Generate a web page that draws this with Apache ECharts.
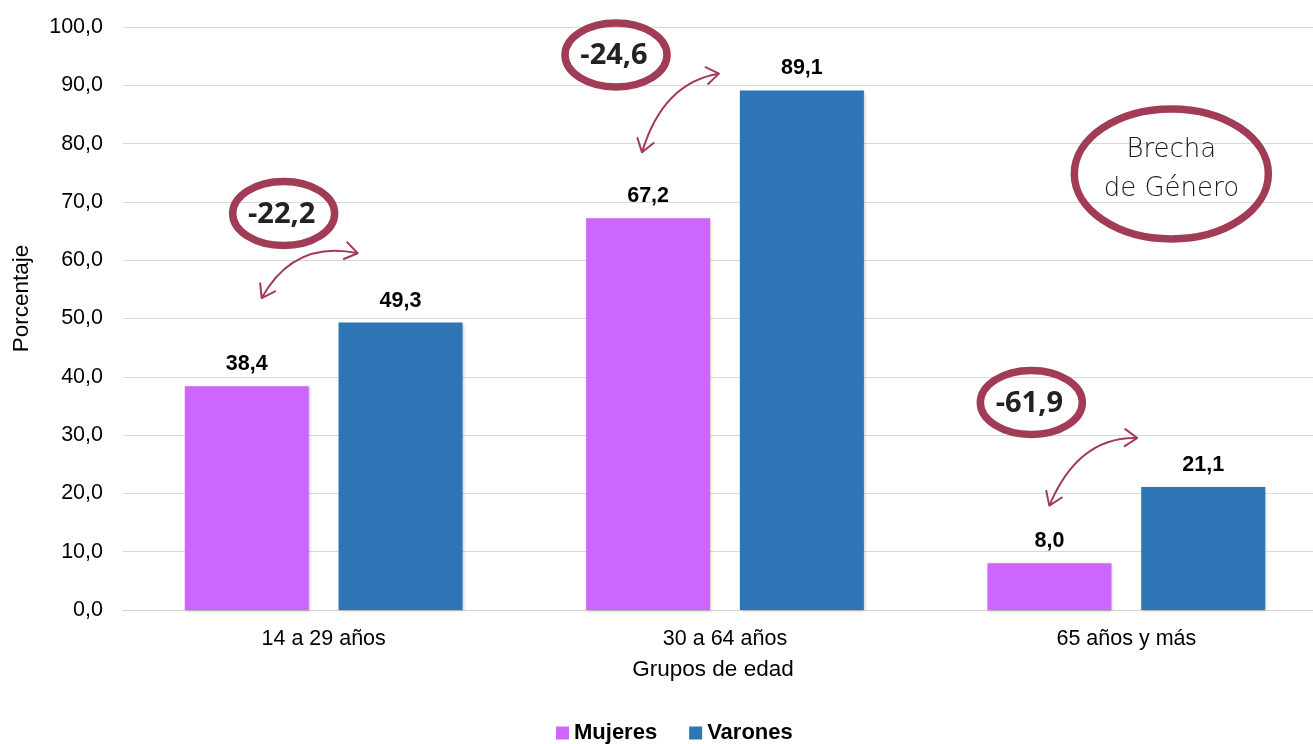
<!DOCTYPE html>
<html><head><meta charset="utf-8">
<script src="https://cdn.jsdelivr.net/npm/echarts@6/dist/echarts.min.js"></script>
<style>html,body{margin:0;padding:0;background:#fff;overflow:hidden;width:1313px;height:744px}#c{width:1327px;height:744px}</style>
</head><body><div id="c"></div>
<script>
const categories = ['14 a 29 años', '30 a 64 años', '65 años y más'];
const mujeres = [38.4, 67.2, 8.0];
const varones = [49.3, 89.1, 21.1];
const brechas = ['-22,2', '-24,6', '-61,9'];
const yTicks = [0, 10, 20, 30, 40, 50, 60, 70, 80, 90, 100];

const MAROON = '#A03C56';
const fmt = v => v.toFixed(1).replace('.', ',');

const chart = echarts.init(document.getElementById('c'));
chart.setOption({
  animation: false,
  grid: { left: 123, top: 27, right: 0, bottom: 134 },
  xAxis: {
    type: 'category', data: categories,
    name: 'Grupos de edad', nameLocation: 'middle', nameGap: 48,
    nameTextStyle: { fontFamily: 'Liberation Sans', fontSize: 22.5, color: '#000', padding: [0, 24, 0, 0] },
    axisLine: { lineStyle: { color: '#cfcfcf', width: 1 } },
    axisTick: { show: false },
    axisLabel: { fontFamily: 'Liberation Sans', fontSize: 21.5, color: '#000', margin: 18 }
  },
  yAxis: {
    type: 'value', min: yTicks[0], max: yTicks[yTicks.length - 1], interval: 10,
    axisLine: { show: false }, axisTick: { show: false },
    axisLabel: { fontFamily: 'Liberation Sans', fontSize: 21.5, color: '#000', margin: 20, formatter: v => fmt(v) },
    splitLine: { lineStyle: { color: '#d9d9d9', width: 1 } }
  },
  legend: {
    bottom: -5, left: 551, itemWidth: 13, itemHeight: 13, itemGap: 32,
    icon: 'rect',
    textStyle: { fontFamily: 'Liberation Sans', fontSize: 22, fontWeight: 'bold', color: '#000' },
    data: ['Mujeres', 'Varones']
  },
  series: [
    { name: 'Mujeres', type: 'bar', data: mujeres, barWidth: 124, barGap: '24%',
      itemStyle: { color: '#CC66FF', shadowColor: 'rgba(0,0,0,0.25)', shadowBlur: 3, shadowOffsetX: 1, shadowOffsetY: 1 },
      label: { show: true, position: 'top', distance: 11, formatter: p => fmt(p.value),
        fontFamily: 'Liberation Sans', fontSize: 21.5, fontWeight: 'bold', color: '#000' } },
    { name: 'Varones', type: 'bar', data: varones, barWidth: 124,
      itemStyle: { color: '#2E75B6', shadowColor: 'rgba(0,0,0,0.25)', shadowBlur: 3, shadowOffsetX: 1, shadowOffsetY: 1 },
      label: { show: true, position: 'top', distance: 11, formatter: p => fmt(p.value),
        fontFamily: 'Liberation Sans', fontSize: 21.5, fontWeight: 'bold', color: '#000' } }
  ]
});

// Annotation layout (decorative), relative to each category centre (px offsets) and a y value
const annLayout = [
  { ex: -40, ey: 68.0, a0: [-62, 53.5], a1: [34, 61.2], c: [-30, 63.5] },
  { ex: -109, ey: 95.2, a0: [-83, 78.5], a1: [-6, 92.0], c: [-62, 90.5] },
  { ex: -95, ey: 35.6, a0: [-77, 17.9], a1: [11, 29.5], c: [-48, 29.8] }
];
const px = (i, dx, v) => {
  const p = chart.convertToPixel({ xAxisIndex: 0, yAxisIndex: 0 }, [categories[i], v]);
  return [p[0] + dx, p[1]];
};
function chevron(tip, from, len, ang) {
  const dx = tip[0] - from[0], dy = tip[1] - from[1];
  const t = Math.atan2(dy, dx);
  const p1 = [tip[0] - len * Math.cos(t - ang), tip[1] - len * Math.sin(t - ang)];
  const p2 = [tip[0] - len * Math.cos(t + ang), tip[1] - len * Math.sin(t + ang)];
  return { type: 'polyline', shape: { points: [p1, tip, p2] },
    style: { stroke: MAROON, lineWidth: 2, fill: null, lineCap: 'round', lineJoin: 'round' } };
}
const graphics = [];
annLayout.forEach((a, i) => {
  const e = px(i, a.ex, a.ey);
  graphics.push({ type: 'ellipse', shape: { cx: e[0], cy: e[1], rx: 51, ry: 32 },
    style: { stroke: MAROON, lineWidth: 7.5, fill: null } });
  graphics.push({ type: 'text', x: e[0] - 2, y: e[1] + 1,
    style: { text: brechas[i], fontFamily: 'Open Sans', fontWeight: 'bold', fontSize: 29,
      fill: '#222', align: 'center', verticalAlign: 'middle' } });
  const s = px(i, a.a0[0], a.a0[1]), t = px(i, a.a1[0], a.a1[1]), c = px(i, a.c[0], a.c[1]);
  graphics.push({ type: 'bezierCurve', shape: { x1: s[0], y1: s[1], x2: t[0], y2: t[1], cpx1: c[0], cpy1: c[1] },
    style: { stroke: MAROON, lineWidth: 2, fill: null } });
  graphics.push(chevron(s, c, 15, 0.6));
  graphics.push(chevron(t, c, 15, 0.6));
});
const b = px(2, 45, 74.8);
graphics.push({ type: 'ellipse', shape: { cx: b[0], cy: b[1], rx: 97, ry: 65 },
  style: { stroke: MAROON, lineWidth: 7.5, fill: null } });
graphics.push({ type: 'text', x: b[0], y: b[1] - 4,
  style: { text: 'Brecha\nde Género', fontFamily: 'DejaVu Sans', fontWeight: 200, fontSize: 26, lineHeight: 39,
    fill: '#1a1a1a', align: 'center', verticalAlign: 'middle' } });
// Y axis title
const yTop = chart.convertToPixel({ yAxisIndex: 0 }, 60), yBot = chart.convertToPixel({ yAxisIndex: 0 }, 40);
graphics.push({ type: 'text', x: 22, y: (yTop + yBot) / 2 - 20, rotation: Math.PI / 2,
  style: { text: 'Porcentaje', fontFamily: 'Liberation Sans', fontSize: 22.5, fill: '#000',
    align: 'center', verticalAlign: 'middle' } });
chart.setOption({ graphic: graphics });
</script>
</body></html>
